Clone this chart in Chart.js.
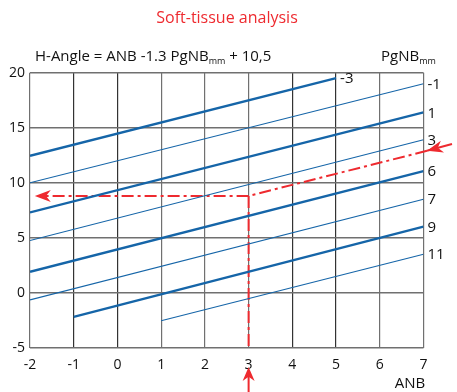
<!DOCTYPE html>
<html>
<head>
<meta charset="utf-8">
<script src="https://cdn.jsdelivr.net/npm/chart.js@4"></script>
<style>
	html,body{margin:0;padding:0;background:#fff;}
	#wrap{width:457px;height:392px;}
</style>
</head>
<body>
<div id="wrap"><canvas id="HChart"></canvas></div>
<script>
// PgNB lines (H-Angle = ANB - 1.3 PgNB + 10,5)
var pgnb     = ['-3', '-1', '1', '3', '6', '7', '9', '11'];
var startAnb = [-2, -2, -2, -2, -2, -2, -1, 1];
var startH   = [12.45, 10.0, 7.3, 4.75, 1.9, -0.65, -2.2, -2.55];
var endAnb   = [5, 7, 7, 7, 7, 7, 7, 7];
var endH     = [19.5, 19.0, 16.4, 13.9, 11.05, 8.5, 6.0, 3.5];

// the worked example in red
var exampleAnb = [7.08, 3, -1.75];
var exampleH   = [12.9, 8.8, 8.8];
var dropAnb    = [3, 3];
var dropH      = [8.8, -5];

var xTicks = [-2, -1, 0, 1, 2, 3, 4, 5, 6, 7];
var yTicks = [-5, 0, 5, 10, 15, 20];

var blue = '#1565a8';
var red = '#ee2a2f';
var font = '"Open Sans", sans-serif';

var datasets = [];
for (var i = 0; i < pgnb.length; i++) {
	datasets.push({
		label: pgnb[i],
		data: [{x: startAnb[i], y: startH[i]}, {x: endAnb[i], y: endH[i]}],
		borderColor: blue,
		borderWidth: i % 2 == 0 ? 2.4 : 1.1,
		pointRadius: 0,
		fill: false
	});
}
datasets.push({
	label: 'example',
	data: exampleAnb.map(function(x, k){ return {x: x, y: exampleH[k]}; }),
	borderColor: red, borderWidth: 2, borderDash: [12, 4, 3, 4],
	pointRadius: 0, fill: false, clip: false
});
datasets.push({
	label: 'drop',
	data: dropAnb.map(function(x, k){ return {x: x, y: dropH[k]}; }),
	borderColor: red, borderWidth: 2, borderDash: [12, 4, 3, 4],
	pointRadius: 0, fill: false, clip: false
});

function arrow(ctx, tx, ty, fx, fy, len, half){
	var a = Math.atan2(ty - fy, tx - fx);
	ctx.beginPath();
	ctx.moveTo(tx, ty);
	ctx.lineTo(tx - len * Math.cos(a) + half * Math.sin(a), ty - len * Math.sin(a) - half * Math.cos(a));
	ctx.lineTo(tx - len * 0.7 * Math.cos(a), ty - len * 0.7 * Math.sin(a));
	ctx.lineTo(tx - len * Math.cos(a) - half * Math.sin(a), ty - len * Math.sin(a) + half * Math.cos(a));
	ctx.closePath();
	ctx.fill();
}

var texts = {
	id: 'texts',
	afterDraw: function(chart){
		var ctx = chart.ctx, xs = chart.scales.x, ys = chart.scales.y;
		ctx.save();
		// title
		ctx.fillStyle = red;
		ctx.font = '16px ' + font;
		ctx.textAlign = 'center';
		ctx.textBaseline = 'alphabetic';
		ctx.fillText('Soft-tissue analysis', 227, 23);

		// formula
		ctx.fillStyle = '#111';
		ctx.textAlign = 'left';
		var x = 35;
		ctx.font = '15px ' + font;
		var s1 = 'H-Angle = ANB -1.3 PgNB';
		ctx.fillText(s1, x, 61); x += ctx.measureText(s1).width;
		ctx.font = '9px ' + font;
		ctx.fillText('mm', x, 64); x += ctx.measureText('mm').width;
		ctx.font = '15px ' + font;
		ctx.fillText(' + 10,5', x, 61);

		x = 381;
		ctx.fillText('PgNB', x, 61); x += ctx.measureText('PgNB').width;
		ctx.font = '9px ' + font;
		ctx.fillText('mm', x, 64);

		// line labels
		ctx.font = '15px ' + font;
		ctx.textBaseline = 'middle';
		for (var i = 0; i < pgnb.length; i++) {
			ctx.fillText(pgnb[i], xs.getPixelForValue(endAnb[i]) + 4, ys.getPixelForValue(endH[i]) + 1);
		}

		// axis name
		ctx.font = '15px ' + font;
		ctx.textAlign = 'center';
		ctx.textBaseline = 'alphabetic';
		ctx.fillText('ANB', 410, 388);

		// arrows
		ctx.fillStyle = red;
		ctx.strokeStyle = red;
		ctx.lineWidth = 2;
		var tx = xs.getPixelForValue(exampleAnb[0]), ty = ys.getPixelForValue(exampleH[0]);
		ctx.beginPath(); ctx.moveTo(452, 144); ctx.lineTo(tx, ty); ctx.stroke();
		arrow(ctx, tx, ty, 452, 144, 16, 6);

		var lx = xs.getPixelForValue(-1.89), ly = ys.getPixelForValue(exampleH[2]);
		arrow(ctx, lx, ly, lx + 20, ly, 16, 6);

		var bx = xs.getPixelForValue(3);
		ctx.beginPath(); ctx.moveTo(bx, 375); ctx.lineTo(bx, 392); ctx.stroke();
		arrow(ctx, bx, 367, bx, 392, 14, 6);
		ctx.restore();
	}
};

new Chart(document.getElementById('HChart'), {
	type: 'line',
	data: {datasets: datasets},
	options: {
		responsive: true,
		maintainAspectRatio: false,
		animation: false,
		layout: {padding: {top: 72.7, right: 33.5, left: 0, bottom: 0}},
		plugins: {legend: {display: false}, tooltip: {enabled: false}},
		scales: {
			x: {
				type: 'linear', min: -2, max: 7,
				afterBuildTicks: function(s){ s.ticks = xTicks.map(function(v){ return {value: v}; }); },
				afterFit: function(s){ s.height = 44.3; },
				grid: {
					drawTicks: false,
					color: function(c){ var v = c.tick.value; return (v == 0 || v == 4 || v == 5 || v == -1) ? '#333' : '#707070'; },
					lineWidth: 1.2
				},
				border: {display: false},
				ticks: {color: '#111', padding: 9, font: {family: font, size: 14}}
			},
			y: {
				min: -5, max: 20,
				afterBuildTicks: function(s){ s.ticks = yTicks.map(function(v){ return {value: v}; }); },
				afterFit: function(s){ s.width = 30; },
				grid: {drawTicks: false, color: '#707070', lineWidth: 1.5},
				border: {display: false},
				ticks: {color: '#111', padding: 5, font: {family: font, size: 14}}
			}
		}
	},
	plugins: [texts]
});
</script>
</body>
</html>
